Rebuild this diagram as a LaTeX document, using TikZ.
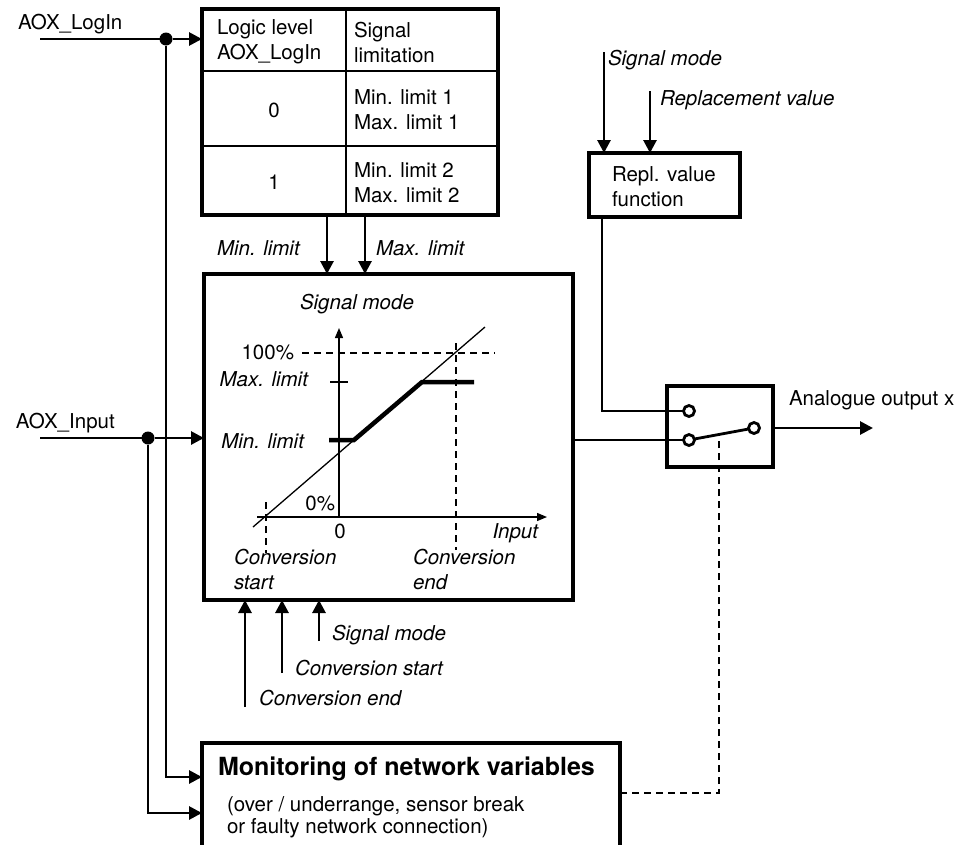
\documentclass[tikz,border=0pt]{standalone}
\usepackage{fontspec}
\setmainfont{TeX Gyre Heros}
\usetikzlibrary{arrows.meta, positioning}

\tikzset{
    every node/.style={font=\fontsize{20.5}{25}\selectfont, inner sep=0pt, outer sep=0pt},
    box/.style={draw, line width=4pt},
    wire/.style={line width=2.8pt},
    thinline/.style={line width=1.3pt},
    sig/.style={wire, -{Triangle[length=13pt, width=13pt]}},
    axis/.style={thinline, -{Triangle[length=10pt, width=8pt]}},
    guide/.style={line width=1.3pt, dash pattern=on 7pt off 5pt},
    lbl/.style={font=\fontsize{20.5}{25}\selectfont\itshape, anchor=base west},
    joint/.style={circle, fill, minimum size=13pt},
    contact/.style={circle, draw, line width=2.8pt, fill=white, minimum size=11pt}
}

\begin{document}
\begin{tikzpicture}[x=1pt, y=-1pt]
    \useasboundingbox (0, 0) rectangle (967, 844);

    % table of limits
    \node[box, minimum width=296pt, minimum height=206pt] (tab) at (350, 112) {};
    \draw[thinline] (346, 9) -- (346, 215);
    \draw[thinline] (202, 71) -- (498, 71);
    \draw[thinline] (202, 146) -- (498, 146);
    \node[anchor=west, align=left] (hlev) at (217, 42) {Logic level\\AOX\_LogIn};
    \node[anchor=west, align=left] (hsig) at (354, 42) {Signal\\limitation};
    \node[anchor=base] (lev0) at (274, 117) {0};
    \node[anchor=base] (lev1) at (274, 189) {1};
    \node[anchor=west, align=left] (lim1) at (354, 110) {Min. limit 1\\Max. limit 1};
    \node[anchor=west, align=left] (lim2) at (354, 183) {Min. limit 2\\Max. limit 2};

    % blocks
    \node[box, minimum width=369pt, minimum height=326pt] (conv) at (388.5, 437) {};
    \node[box, minimum width=151pt, minimum height=64pt] (repl) at (664.5, 185) {};
    \node[anchor=west, align=left] (repltxt) at (612, 187) {Repl. value\\function};
    \node[box, minimum width=106pt, minimum height=81pt] (sw) at (720, 426.5) {};
    \begin{scope}
        \clip (0, 0) rectangle (967, 844);
        \node[box, minimum width=418pt, minimum height=130pt] (mon) at (411, 808) {};
    \end{scope}
    \node[anchor=base west, font=\fontsize{25}{30}\selectfont\bfseries] (montitle) at (218, 775) {Monitoring of network variables};
    \node[anchor=base west, align=left, font=\fontsize{20.5}{22}\selectfont] (montxt) at (227, 833) {(over / underrange, sensor break\\or faulty network connection)};

    % inputs
    \coordinate (login) at (40, 39);
    \coordinate (input) at (40, 438);
    \node[joint] (jlog) at (166, 39) {};
    \node[joint] (jin) at (148, 438) {};
    \node[anchor=base west] (loglbl) at (18, 29) {AOX\_LogIn};
    \node[anchor=base west] (inlbl) at (16, 428) {AOX\_Input};
    \draw[wire] (login) -- (jlog);
    \draw[sig] (jlog) -- (tab.west |- jlog);
    \draw[wire] (input) -- (jin);
    \draw[sig] (jin) -- (conv.west |- jin);
    \draw[sig] (jlog) |- (mon.west |- 0, 777);
    \draw[sig] (jin) |- (mon.west |- 0, 813);

    % limits into the converter
    \draw[sig] (tab.south -| 327, 0) -- (conv.north -| 327, 0);
    \draw[sig] (tab.south -| 365, 0) -- (conv.north -| 365, 0);
    \node[lbl] (minlbl) at (217, 255) {Min. limit};
    \node[lbl] (maxlbl) at (376, 255) {Max. limit};

    % characteristic
    \begin{scope}
        \coordinate (O) at (339, 517);
        \draw[axis] (257, 517) -- (547, 517);
        \draw[axis] (O) -- (339, 328);
        \draw[thinline] (253, 527) -- (485, 327);
        \draw[guide] (302, 353) -- (495, 353);
        \draw[guide] (456, 343) -- (456, 550);
        \draw[guide] (266, 502) -- (266, 553);
        \draw[thinline] (330, 382) -- (348, 382);
        \draw[line width=4.5pt] (329, 440) -- (354, 440) -- (422, 382) -- (474, 382);
        \node[lbl] (modelbl) at (300, 309) {Signal mode};
        \node[anchor=base east] (p100) at (294, 359) {100\%};
        \node[lbl, anchor=base east] (maxax) at (308, 386) {Max. limit};
        \node[lbl, anchor=base east] (minax) at (304, 448) {Min. limit};
        \node[anchor=base east] (p0) at (335, 510) {0\%};
        \node[anchor=base] (zero) at (340, 538) {0};
        \node[lbl, anchor=base east] (inax) at (538, 538) {Input};
        \node[lbl, align=left] (cstart) at (234, 589) {Conversion\\start};
        \node[lbl, align=left] (cend) at (413, 589) {Conversion\\end};
    \end{scope}

    % parameters from below
    \draw[sig] (245, 707) -- (conv.south -| 245, 0);
    \draw[sig] (282, 673) -- (conv.south -| 282, 0);
    \draw[sig] (319, 641) -- (conv.south -| 319, 0);
    \node[lbl] (pend) at (259, 705) {Conversion end};
    \node[lbl] (pstart) at (295, 675) {Conversion start};
    \node[lbl] (pmode) at (332, 640) {Signal mode};

    % replacement value
    \draw[sig] (604, 52) -- (repl.north -| 604, 0);
    \draw[sig] (650, 91) -- (repl.north -| 650, 0);
    \node[lbl] (rmode) at (608, 65) {Signal mode};
    \node[lbl] (rval) at (660, 105) {Replacement value};

    % switch
    \node[contact] (cA) at (689, 411) {};
    \node[contact] (cB) at (689, 440) {};
    \node[contact] (cC) at (754, 428) {};
    \draw[wire] (cB) -- (cC);
    \draw[wire] (repl.south -| 602, 0) |- (cA);
    \draw[wire] (conv.east |- cB) -- (cB);
    \coordinate (out) at (873, 428);
    \draw[sig] (sw.east |- cC) -- (out);
    \node[anchor=base west] (outlbl) at (789, 405) {Analogue output x};
    \coordinate (lever) at (719, 434.5);
    \draw[guide] (mon.east |- 0, 793) -| (lever);
\end{tikzpicture}
\end{document}
